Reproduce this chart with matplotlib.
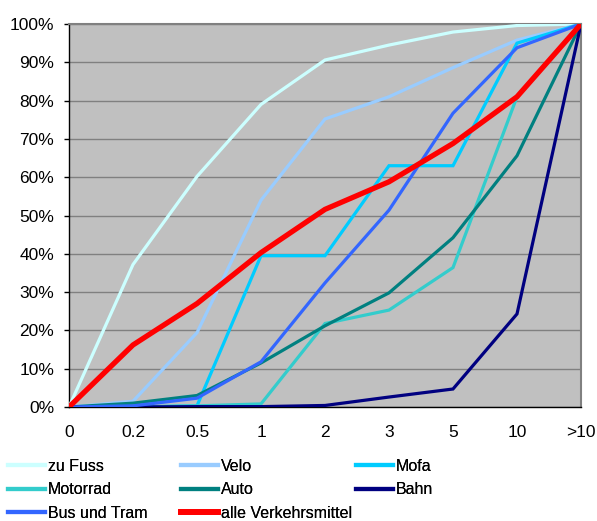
import matplotlib
matplotlib.use("Agg")
import matplotlib.pyplot as plt
import matplotlib.lines as mlines
from matplotlib.ticker import FuncFormatter

plt.rcParams['font.family'] = ['Liberation Sans', 'DejaVu Sans']

categories = ["0", "0.2", "0.5", "1", "2", "3", "5", "10", ">10"]

zu_fuss = [0, 37.2, 60.2, 79.0, 90.6, 94.5, 97.9, 99.6, 100]
velo = [0, 1.5, 19.4, 54.0, 75.2, 81.0, 88.6, 95.8, 100]
mofa = [0, 0, 0.3, 39.5, 39.5, 63.0, 63.0, 95.0, 100]
motorrad = [0, 0, 0.3, 0.8, 21.8, 25.3, 36.4, 81.0, 100]
auto = [0, 1.0, 3.0, 11.5, 21.2, 29.8, 44.2, 65.6, 100]
bahn = [0, 0, 0.1, 0.1, 0.4, 2.6, 4.7, 24.3, 100]
bus_tram = [0, 0.3, 2.3, 11.8, 32.4, 51.4, 76.7, 93.8, 100]
alle = [0, 16.2, 27.0, 40.3, 51.6, 58.8, 68.8, 81.0, 100]

series_names = ["zu Fuss", "Velo", "Mofa", "Motorrad", "Auto", "Bahn",
                "Bus und Tram", "alle Verkehrsmittel"]
series_values = [zu_fuss, velo, mofa, motorrad, auto, bahn, bus_tram, alle]
colors = ["#CCFFFF", "#99CCFF", "#00CCFF", "#33CCCC", "#008080", "#000080",
          "#3366FF", "#FF0000"]
widths = [2.3, 2.3, 2.3, 2.3, 2.3, 2.3, 2.3, 3.8]

W, H = 597, 521
fig = plt.figure(figsize=(W / 100, H / 100), dpi=100)
ax = fig.add_axes([69/W, 1 - 407/H, (581 - 69)/W, (407 - 24)/H])
ax.set_facecolor("#C0C0C0")

x = list(range(len(categories)))
for name, vals, c, w in zip(series_names, series_values, colors, widths):
    ax.plot(x, vals, color=c, lw=w, label=name, solid_joinstyle='miter', zorder=3)

ax.set_xlim(0, len(categories) - 1)
ax.set_ylim(0, 100)
ax.set_yticks(range(0, 101, 10))
ax.yaxis.set_major_formatter(FuncFormatter(lambda v, p: f"{int(v)}%"))
ax.set_xticks(x)
ax.set_xticklabels(categories)
ax.grid(axis='y', color="#808080", lw=1.0, zorder=1)
ax.set_axisbelow(True)

for s in ["top", "right"]:
    ax.spines[s].set_color("#808080")
    ax.spines[s].set_linewidth(1.5)
for s in ["left", "bottom"]:
    ax.spines[s].set_color("#000000")
    ax.spines[s].set_linewidth(1.0)

ax.tick_params(axis='y', length=3.6, width=1, direction='out', labelsize=12.5, pad=7)
ax.tick_params(axis='x', length=0, labelsize=12.5, pad=13)

# legend: three columns, placed like the original
columns = [[0, 3, 6], [1, 4, 7], [2, 5]]
col_x = [8, 181, 356]
for xs, idxs in zip(col_x, columns):
    handles = [mlines.Line2D([], [], color=colors[i], lw=3.0 if i != 7 else 4.2)
               for i in idxs]
    labels = [series_names[i] for i in idxs]
    leg = fig.legend(handles, labels, loc='upper left',
                     bbox_to_anchor=(xs / W, 1 - 459 / H), frameon=False,
                     fontsize=11.5, handlelength=2.3, handletextpad=0.2,
                     labelspacing=0.53, borderaxespad=0, borderpad=0)
    fig.add_artist(leg)

fig.savefig("out.png", dpi=100)
